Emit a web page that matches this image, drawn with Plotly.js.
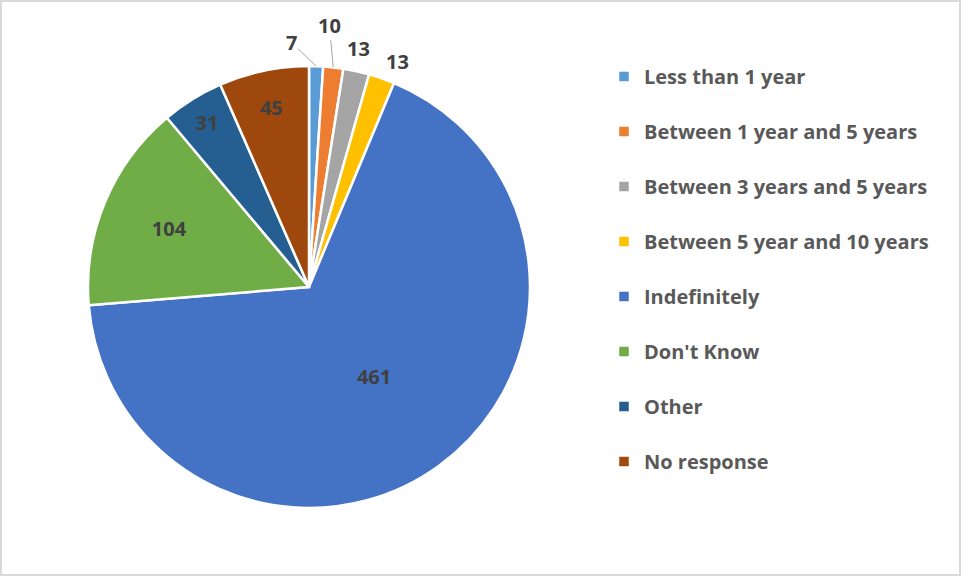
<!DOCTYPE html>
<html>
<head>
<meta charset="utf-8">
<script src="https://cdn.plot.ly/plotly-3.0.1.min.js"></script>
<style>
html,body{margin:0;padding:0;background:#fff;}
#chart{width:957px;height:572px;border:2px solid #d9d9d9;}
</style>
</head>
<body>
<div id="chart"></div>
<script>
var categories = ["Less than 1 year","Between 1 year and 5 years","Between 3 years and 5 years","Between 5 year and 10 years","Indefinitely","Don't Know","Other","No response"];
var values = [7, 10, 13, 13, 461, 104, 31, 45];
var colors = ["#5B9BD5","#ED7D31","#A5A5A5","#FFC000","#4472C4","#70AD47","#255E91","#9E480E"];
var positions = ["none","none","none","none","inside","inside","inside","inside"];

var W = 957, H = 572;
var cx = 307, cy = 285, r = 221;
var FONT = '"Open Sans", sans-serif';

var legendLabels = categories.map(function(c){
  return '<span style="font-size:20px">' + c + '</span><br>&nbsp;';
});

var trace = {
  type: 'pie',
  labels: legendLabels,
  values: values,
  sort: false,
  direction: 'clockwise',
  rotation: 0,
  marker: {colors: colors, line: {color: '#ffffff', width: 2.5}},
  textinfo: 'value',
  textposition: positions,
  insidetextorientation: 'horizontal',
  textfont: {family: FONT, size: 20, color: '#404040', weight: 'bold'},
  insidetextfont: {family: FONT, size: 20, color: '#404040', weight: 'bold'},
  hoverinfo: 'skip',
  automargin: false,
  domain: {
    x: [(cx - r) / W, (cx + r) / W],
    y: [(H - (cy + r)) / H, (H - (cy - r)) / H]
  }
};

// outside labels for the four thin slices, anchored at their mid-angles on the rim
var total = values.reduce(function(a, b){ return a + b; }, 0);
function rimPoint(i) {
  var before = 0;
  for (var k = 0; k < i; k++) before += values[k];
  var a = 2 * Math.PI * (before + values[i] / 2) / total;
  return {x: (cx + r * Math.sin(a)) / W, y: 1 - (cy - r * Math.cos(a)) / H};
}
var annFont = {family: FONT, size: 20, color: '#404040', weight: 'bold'};
var labelStyle = [
  {arrow: true, ax: -25, ay: -24},
  {arrow: true, ax: -4, ay: -42},
  {arrow: false, xs: 2, ys: 23},
  {arrow: false, xs: 16, ys: 17}
];
var annotations = labelStyle.map(function(s, i){
  var p = rimPoint(i);
  var a = {
    xref: 'paper', yref: 'paper', x: p.x, y: p.y,
    text: String(values[i]),
    font: annFont
  };
  if (s.arrow) {
    a.showarrow = true; a.arrowhead = 0; a.arrowwidth = 1; a.arrowcolor = '#a6a6a6';
    a.ax = s.ax; a.ay = s.ay;
  } else {
    a.showarrow = false; a.xanchor = 'center'; a.yanchor = 'middle';
    a.xshift = s.xs; a.yshift = s.ys;
  }
  return a;
});

var layout = {
  width: W, height: H,
  margin: {l: 0, r: 0, t: 0, b: 0},
  paper_bgcolor: '#ffffff',
  showlegend: true,
  legend: {
    x: 602 / W, xanchor: 'left',
    y: 1 - 55 / H, yanchor: 'top',
    valign: 'top',
    font: {family: FONT, size: 20, color: '#595959', weight: 'bold'},
    bgcolor: 'rgba(0,0,0,0)'
  },
  annotations: annotations
};

Plotly.newPlot('chart', [trace], layout, {staticPlot: true, displayModeBar: false});
</script>
</body>
</html>
